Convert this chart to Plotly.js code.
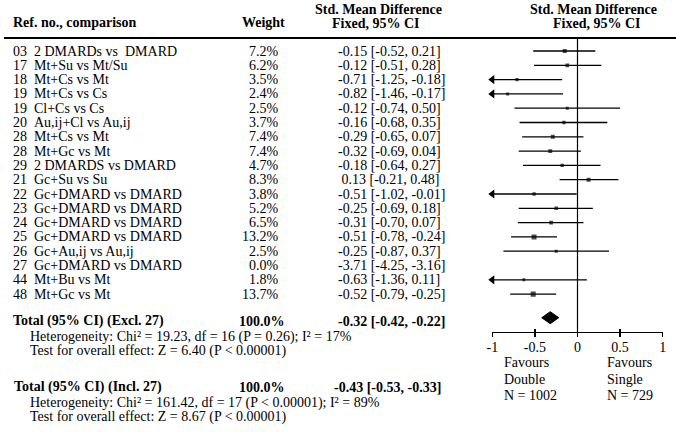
<!DOCTYPE html>
<html>
<head>
<meta charset="utf-8">
<script src="https://cdn.plot.ly/plotly-3.0.1.min.js"></script>
<style>html,body{margin:0;padding:0;background:#fff;}#chart{width:676px;height:432px;}</style>
</head>
<body>
<div id="chart"></div>
<script>
// ---- data ----
const refs = ["03","17","18","19","19","20","28","28","29","21","22","23","24","25","26","27","44","48"];
const comparisons = ["2 DMARDs vs  DMARD","Mt+Su vs Mt/Su","Mt+Cs vs Mt","Mt+Cs vs Cs","Cl+Cs vs Cs","Au,ij+Cl vs Au,ij","Mt+Cs vs Mt","Mt+Gc vs Mt","2 DMARDS vs DMARD","Gc+Su vs Su","Gc+DMARD vs DMARD","Gc+DMARD vs DMARD","Gc+DMARD vs DMARD","Gc+DMARD vs DMARD","Gc+Au,ij vs Au,ij","Gc+DMARD vs DMARD","Mt+Bu vs Mt","Mt+Gc vs Mt"];
const weights = [7.2,6.2,3.5,2.4,2.5,3.7,7.4,7.4,4.7,8.3,3.8,5.2,6.5,13.2,2.5,0.0,1.8,13.7];
const smd = [-0.15,-0.12,-0.71,-0.82,-0.12,-0.16,-0.29,-0.32,-0.18,0.13,-0.51,-0.25,-0.31,-0.51,-0.25,-3.71,-0.63,-0.52];
const ciLow = [-0.52,-0.51,-1.25,-1.46,-0.74,-0.68,-0.65,-0.69,-0.64,-0.21,-1.02,-0.69,-0.70,-0.78,-0.87,-4.25,-1.36,-0.79];
const ciHigh = [0.21,0.28,-0.18,-0.17,0.50,0.35,0.07,0.04,0.27,0.48,-0.01,0.18,0.07,-0.24,0.37,-3.16,0.11,-0.25];

const totalExcl = {smd:-0.32, low:-0.42, high:-0.22, weight:"100.0%",
  label:"Total (95% CI) (Excl. 27)",
  het:"Heterogeneity: Chi² = 19.23, df = 16 (P = 0.26); I² = 17%",
  test:"Test for overall effect: Z = 6.40 (P < 0.00001)"};
const totalIncl = {smd:-0.43, low:-0.53, high:-0.33, weight:"100.0%",
  label:"Total (95% CI) (Incl. 27)",
  het:"Heterogeneity: Chi² = 161.42, df = 17 (P < 0.00001); I² = 89%",
  test:"Test for overall effect: Z = 8.67 (P < 0.00001)"};

const tickVals = [-1,-0.5,0,0.5,1];
const tickText = ["-1","-0.5","0","0.5","1"];
const favLeft = ["Favours","Double","N = 1002"];
const favRight = ["Favours","Single","N = 729"];

// ---- layout helpers ----
const W = 676, H = 432;
const FONT = "Liberation Serif, Times New Roman, serif";
const FS = 14;
const fx = x => x / W;
const fy = y => 1 - y / H;
const row0 = 51, rowStep = 14.3;
const yTop = -row0 / rowStep, yBot = (H - row0) / rowStep;
const xMin = tickVals[0], xMax = tickVals[tickVals.length - 1];

const fmt = v => (v < 0 ? "" : " ") + v.toFixed(2);
const ciStr = (e,l,h) => fmt(e) + " [" + l.toFixed(2) + ", " + h.toFixed(2) + "]";

const ann = [];
function txt(text, x, y, opts) {
  ann.push(Object.assign({text: text, x: fx(x), xref: "paper", y: y, yref: "y",
    xanchor: "left", yanchor: "middle", showarrow: false, borderpad: 0,
    font: {family: FONT, size: FS, color: "#000"}}, opts || {}));
}
function txtP(text, x, ypx, opts) {
  txt(text, x, fy(ypx), Object.assign({yref: "paper"}, opts || {}));
}
const bold = s => "<b>" + s + "</b>";

// headers
txtP(bold("Ref. no., comparison"), 12, 23);
txtP(bold("Weight"), 263, 23, {xanchor: "center"});
txtP(bold("Std. Mean Difference"), 378, 10, {xanchor: "center"});
txtP(bold("Fixed, 95% CI"), 376, 23.5, {xanchor: "center"});
txtP(bold("Std. Mean Difference"), 593, 10, {xanchor: "center"});
txtP(bold("Fixed, 95% CI"), 597, 23.5, {xanchor: "center"});

// rows
refs.forEach((r, i) => {
  txt(r, 12, i);
  txt(comparisons[i], 33, i);
  txt(weights[i].toFixed(1) + "%", 280, i, {xanchor: "right"});
  txt(ciStr(smd[i], ciLow[i], ciHigh[i]), 337, i);
});

// totals
txtP(bold(totalExcl.label), 12, 321.3);
txtP(bold(totalExcl.weight), 286, 321.3, {xanchor: "right"});
txtP(bold(ciStr(totalExcl.smd, totalExcl.low, totalExcl.high)), 337, 321.3);
txtP(totalExcl.het, 29, 336.5);
txtP(totalExcl.test, 29, 350.8);
txtP(bold(totalIncl.label), 13, 387.3);
txtP(bold(totalIncl.weight), 286, 387.3, {xanchor: "right"});
txtP(bold(ciStr(totalIncl.smd, totalIncl.low, totalIncl.high)), 333, 387.3);
txtP(totalIncl.het, 29, 402.5);
txtP(totalIncl.test, 29, 416.8);

// favours
favLeft.forEach((s, k) => txtP(s, 503, 362.5 + k * 16.7));
favRight.forEach((s, k) => txtP(s, 606, 362.5 + k * 16.7));

// ---- traces ----
const lx = [], ly = [];
smd.forEach((v, i) => { lx.push(ciLow[i], ciHigh[i], null); ly.push(i, i, null); });
const ciTrace = {x: lx, y: ly, mode: "lines", type: "scatter", line: {color: "#000", width: 1.3},
  hoverinfo: "skip", showlegend: false};

const arrowX = [], arrowY = [];
smd.forEach((v, i) => { if (ciLow[i] < xMin && ciHigh[i] > xMin) { arrowX.push(xMin); arrowY.push(i); } });
const arrowTrace = {x: arrowX, y: arrowY, mode: "markers", type: "scatter", cliponaxis: false,
  marker: {symbol: "triangle-left", size: 8, color: "#000"}, hoverinfo: "skip", showlegend: false};

const sqTrace = {x: smd, y: smd.map((v, i) => i), mode: "markers", type: "scatter",
  marker: {symbol: "square", size: weights.map(w => 2.6 + 0.18 * w), color: "#000", line: {width: 0}},
  hoverinfo: "skip", showlegend: false};

const dY = (317.7 - row0) / rowStep, dH = 6 / rowStep;
const diamond = {x: [totalExcl.low, totalExcl.smd, totalExcl.high, totalExcl.smd, totalExcl.low],
  y: [dY, dY - dH, dY, dY + dH, dY], mode: "lines", fill: "toself", fillcolor: "#000",
  line: {color: "#000", width: 1}, type: "scatter", hoverinfo: "skip", showlegend: false};

const axisY = 331.7;
const layout = {
  width: W, height: H, margin: {l: 0, r: 0, t: 0, b: 0},
  paper_bgcolor: "#fff", plot_bgcolor: "rgba(0,0,0,0)", showlegend: false,
  xaxis: {domain: [492.3 / W, 662.7 / W], range: [xMin, xMax], anchor: "free", position: fy(axisY),
    showline: true, linecolor: "#000", linewidth: 1.5, ticks: "outside", ticklen: 4, tickwidth: 1.5, tickcolor: "#000",
    tickvals: tickVals, ticktext: tickText, showgrid: false, zeroline: false, ticklabelstandoff: -2,
    tickfont: {family: FONT, size: 14, color: "#000"}, fixedrange: true},
  xaxis2: {matches: "x", overlaying: "x", anchor: "free", position: fy(axisY), side: "bottom",
    showline: false, ticks: "inside", ticklen: 3, tickwidth: 1.5, tickcolor: "#000",
    tickvals: tickVals, showticklabels: false, showgrid: false, zeroline: false},
  yaxis: {domain: [0, 1], range: [yBot, yTop], visible: false, fixedrange: true},
  shapes: [
    {type: "line", xref: "x", x0: 0, x1: 0, yref: "paper", y0: fy(axisY), y1: fy(38), line: {color: "#000", width: 1.2}},
    {type: "line", xref: "paper", x0: fx(4), x1: 1, yref: "paper", y0: fy(38), y1: fy(38), line: {color: "#000", width: 2}}
  ],
  annotations: ann
};
const dummy2 = {x: [xMin], y: [0], xaxis: "x2", mode: "markers", marker: {opacity: 0}, hoverinfo: "skip", showlegend: false};

Plotly.newPlot("chart", [ciTrace, sqTrace, arrowTrace, diamond, dummy2], layout, {staticPlot: true, displayModeBar: false});
</script>
</body>
</html>
